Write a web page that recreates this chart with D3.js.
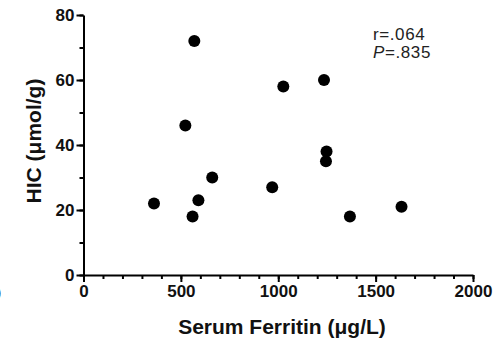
<!DOCTYPE html>
<html>
<head>
<meta charset="utf-8">
<script src="https://cdn.jsdelivr.net/npm/d3@7"></script>
<style>
  body { margin: 0; background: #fff; }
  svg { display: block; font-family: "Liberation Sans", Arial, sans-serif; }
  .axis path, .axis line { stroke: #000; stroke-width: 2; }
  .axis text { font-size: 17px; font-weight: bold; fill: #111; }
</style>
</head>
<body>
<svg id="chart" width="493" height="338"></svg>
<script>
// serum ferritin (ug/L) vs HIC (umol/g)
const ferritin = [362, 569, 523, 560, 590, 661, 969, 1026, 1235, 1248, 1245, 1368, 1633];
const hic = [22, 72, 46, 18, 23, 30, 27, 58, 60, 38, 35, 18, 21];
const xTicks = [0, 500, 1000, 1500, 2000];
const yTicks = [0, 20, 40, 60, 80];
const stats = ['r=.064', '=.835'];

const svg = d3.select('#chart');
const margin = {left: 83.5, right: 20, top: 15, bottom: 63};
const width = 493, height = 338;

const x = d3.scaleLinear().domain([0, 2000]).range([margin.left, width - margin.right]);
const y = d3.scaleLinear().domain([0, 80]).range([height - margin.bottom, margin.top]);

// minor ticks
svg.append('g')
  .attr('class', 'axis')
  .attr('transform', `translate(0,${y(0)})`)
  .call(d3.axisBottom(x).tickValues(d3.range(0, 2001, 100)).tickSize(4).tickFormat(''))
  .select('.domain').remove();
svg.append('g')
  .attr('class', 'axis')
  .attr('transform', `translate(${x(0)},0)`)
  .call(d3.axisLeft(y).tickValues(d3.range(0, 81, 10)).tickSize(4).tickFormat(''))
  .select('.domain').remove();

svg.append('g')
  .attr('class', 'axis')
  .attr('transform', `translate(0,${y(0)})`)
  .call(d3.axisBottom(x).tickValues(xTicks).tickFormat(d3.format('d'))
    .tickSize(7).tickSizeOuter(0).tickPadding(3));

svg.append('g')
  .attr('class', 'axis')
  .attr('transform', `translate(${x(0)},0)`)
  .call(d3.axisLeft(y).tickValues(yTicks).tickFormat(d3.format('d'))
    .tickSize(7).tickSizeOuter(0).tickPadding(2));

svg.append('text')
  .attr('x', 282)
  .attr('y', 334)
  .attr('text-anchor', 'middle')
  .style('font-size', '21px')
  .style('font-weight', 'bold')
  .style('fill', '#111')
  .text('Serum Ferritin (\u03bcg/L)');

svg.append('text')
  .attr('transform', `translate(41,141) rotate(-90)`)
  .attr('text-anchor', 'middle')
  .style('font-size', '21px')
  .style('font-weight', 'bold')
  .style('fill', '#111')
  .text('HIC (\u03bcmol/g)');

// clipped glyph at the left edge
svg.append('text')
  .attr('x', -4)
  .attr('y', 298)
  .style('font-size', '16px')
  .text(')');

svg.append('g')
  .selectAll('circle')
  .data(ferritin)
  .join('circle')
  .attr('cx', d => x(d))
  .attr('cy', (d, i) => y(hic[i]))
  .attr('r', 6)
  .attr('fill', '#000');

svg.append('text')
  .attr('x', 373)
  .attr('y', 40)
  .style('font-size', '17px')
  .style('letter-spacing', '0.6px')
  .style('fill', '#222')
  .text(stats[0]);
const line2 = svg.append('text')
  .attr('x', 373)
  .attr('y', 58)
  .style('font-size', '17px')
  .style('letter-spacing', '0.6px')
  .style('fill', '#222');
line2.append('tspan').style('font-style', 'italic').text('P');
line2.append('tspan').text(stats[1]);
</script>
</body>
</html>
